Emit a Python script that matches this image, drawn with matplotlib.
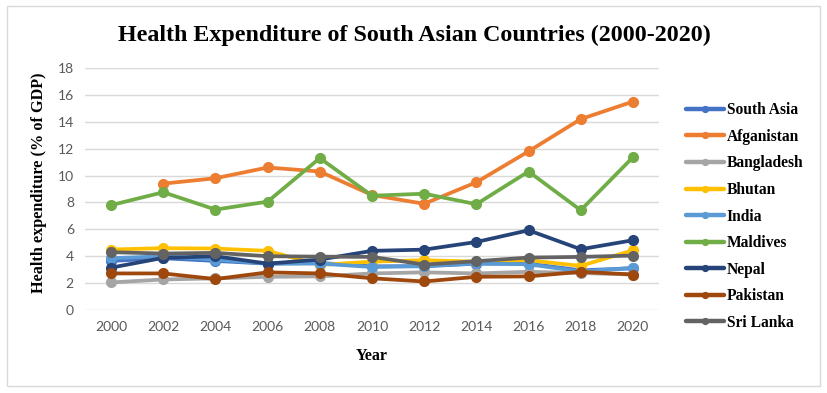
import matplotlib
matplotlib.use("Agg")
import matplotlib.pyplot as plt
from matplotlib.patches import Rectangle

years = [2000, 2002, 2004, 2006, 2008, 2010, 2012, 2014, 2016, 2018, 2020]

south_asia = [3.65, 3.85, 3.65, 3.45, 3.5, 3.25, 3.25, 3.45, 3.45, 2.95, 3.1]
afganistan = [None, 9.4, 9.8, 10.6, 10.3, 8.55, 7.9, 9.5, 11.8, 14.2, 15.5]
bangladesh = [2.05, 2.27, 2.35, 2.47, 2.5, 2.72, 2.8, 2.72, 2.84, 2.75, 2.64]
bhutan = [4.5, 4.6, 4.57, 4.4, 3.35, 3.6, 3.7, 3.6, 3.7, 3.28, 4.44]
india = [3.85, 4.0, 3.75, 3.45, 3.45, 3.2, 3.28, 3.46, 3.4, 2.86, 3.14]
maldives = [7.8, 8.76, 7.47, 8.06, 11.3, 8.5, 8.65, 7.87, 10.3, 7.42, 11.36]
nepal = [3.15, 3.88, 4.0, 3.45, 3.75, 4.4, 4.49, 5.06, 5.93, 4.52, 5.19]
pakistan = [2.72, 2.72, 2.3, 2.8, 2.72, 2.36, 2.12, 2.47, 2.5, 2.84, 2.64]
sri_lanka = [4.3, 4.2, 4.25, 4.0, 3.97, 3.95, 3.38, 3.63, 3.9, 3.95, 4.05]

series_names = ["South Asia", "Afganistan", "Bangladesh", "Bhutan", "India",
                "Maldives", "Nepal", "Pakistan", "Sri Lanka"]
series_values = [south_asia, afganistan, bangladesh, bhutan, india,
                 maldives, nepal, pakistan, sri_lanka]
colors = ["#4472C4", "#ED7D31", "#A5A5A5", "#FFC000", "#5B9BD5",
          "#70AD47", "#264478", "#9E480E", "#636363"]

fig = plt.figure(figsize=(8.27, 3.93), dpi=100)
W, H = 827, 393
ax = fig.add_axes([85 / W, 1 - 310 / H, (659 - 85) / W, (310 - 68) / H])

for name, vals, c in zip(series_names, series_values, colors):
    xs = [x for x, v in zip(years, vals) if v is not None]
    ys = [v for v in vals if v is not None]
    ax.plot(xs, ys, color=c, lw=2.7, marker="o", ms=7, label=name,
            solid_capstyle="round", solid_joinstyle="round")

ax.set_xlim(1999, 2021)
ax.set_ylim(0, 18)
ax.set_yticks(range(0, 19, 2))
ax.set_xticks(years)
ax.grid(axis="y", color="#D9D9D9", lw=1)
ax.set_axisbelow(True)
for s in ax.spines.values():
    s.set_visible(False)
ax.tick_params(length=0, labelsize=10, labelcolor="#595959", pad=8)
for lab in ax.get_xticklabels() + ax.get_yticklabels():
    lab.set_fontfamily("Lato")

serif = "Liberation Serif"
ax.set_xlabel("Year", fontfamily=serif, fontweight="bold", fontsize=11.5, labelpad=11)
ax.set_ylabel("Health expenditure (% of GDP)", fontfamily=serif, fontweight="bold",
              fontsize=11.7, labelpad=4)
ax.yaxis.set_label_coords(-0.066, 0.525)
fig.text(414 / W, 1 - 35 / H, "Health Expenditure of South Asian Countries (2000-2020)",
         ha="center", va="center", fontfamily=serif, fontweight="bold", fontsize=17.3)

leg = fig.legend(loc="upper left", bbox_to_anchor=(680 / W, 1 - 96 / H),
                 frameon=False, prop={"family": serif, "weight": "bold", "size": 11.2},
                 handlelength=2.4, handletextpad=0.2, labelspacing=0.68,
                 markerscale=0.6, borderaxespad=0)
for h in leg.get_lines():
    h.set_linewidth(3.2)

fig.patches.append(Rectangle((7 / W, 1 - 386 / H), 813 / W, 380 / H,
                             transform=fig.transFigure, fill=False,
                             edgecolor="#D9D9D9", lw=1))

fig.savefig("out.png", dpi=100)
